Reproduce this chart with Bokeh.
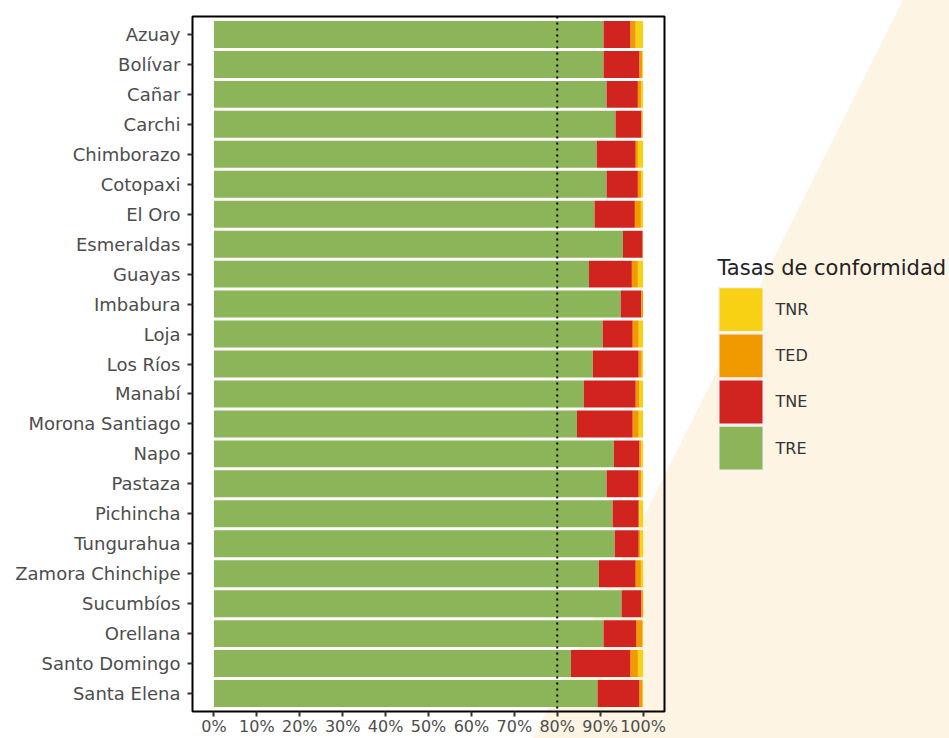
from urllib.parse import quote
from bokeh.plotting import figure
from bokeh.layouts import row
from bokeh.models import ColumnDataSource, Range1d, FixedTicker, Span
from bokeh.core.properties import value
from bokeh.embed import file_html
from bokeh.resources import INLINE

# ---------------- data ----------------
provincias = ["Azuay", "Bolívar", "Cañar", "Carchi", "Chimborazo", "Cotopaxi",
              "El Oro", "Esmeraldas", "Guayas", "Imbabura", "Loja", "Los Ríos",
              "Manabí", "Morona Santiago", "Napo", "Pastaza", "Pichincha",
              "Tungurahua", "Zamora Chinchipe", "Sucumbíos", "Orellana",
              "Santo Domingo", "Santa Elena"]

TRE = [90.8, 90.8, 91.5, 93.6, 89.2, 91.5, 88.7, 95.3, 87.4, 94.8, 90.6, 88.3,
       86.2, 84.6, 93.2, 91.5, 92.9, 93.4, 89.7, 95.0, 90.8, 83.2, 89.4]
TNE = [6.3, 8.4, 7.3, 6.0, 9.1, 7.3, 9.4, 4.6, 10.0, 4.8, 7.0, 10.7,
       12.1, 13.0, 6.0, 7.5, 6.1, 5.6, 8.6, 4.6, 7.7, 13.9, 9.8]
TED = [1.2, 0.6, 0.8, 0.3, 0.5, 0.8, 1.4, 0.1, 1.4, 0.4, 1.4, 0.7,
       0.9, 1.4, 0.4, 0.6, 0.1, 0.3, 1.2, 0.4, 1.4, 1.7, 0.7]
TNR = [1.7, 0.2, 0.4, 0.1, 1.2, 0.4, 0.5, 0.0, 1.2, 0.0, 1.0, 0.3,
       0.8, 1.0, 0.4, 0.4, 0.9, 0.7, 0.5, 0.0, 0.1, 1.2, 0.1]

series = ["TRE", "TNE", "TED", "TNR"]
series_colors = ["#8CB55A", "#D2241F", "#F09A00", "#F9D114"]
legend_order = ["TNR", "TED", "TNE", "TRE"]
legend_title = "Tasas de conformidad"

x_ticks = [0, 10, 20, 30, 40, 50, 60, 70, 80, 90, 100]
x_tick_labels = ["0%", "10%", "20%", "30%", "40%", "50%", "60%", "70%",
                 "80%", "90%", "100%"]
meta = 80

FONT = "DejaVu Sans"
W, H = 949, 738
MAIN_W = 666
FRAME_TOP, FRAME_BOTTOM = 16, 713

# ---------------- main chart ----------------
n = len(provincias)
pos = list(range(1, n + 1))
source = ColumnDataSource(dict(pos=pos, prov=provincias, TRE=TRE, TNE=TNE,
                               TED=TED, TNR=TNR))

p = figure(width=MAIN_W, height=H,
           x_range=Range1d(-5, 105), y_range=Range1d(n + 0.6, 0.4),
           output_backend="svg", toolbar_location=None,
           min_border_left=192, min_border_right=2,
           min_border_top=FRAME_TOP, min_border_bottom=H - FRAME_BOTTOM)
p.background_fill_alpha = 0
p.border_fill_alpha = 0
p.outline_line_color = "black"
p.outline_line_width = 2

p.hbar_stack(series, y="pos", height=0.9, source=source,
             fill_color=series_colors, line_color=None)

p.add_layout(Span(location=meta, dimension="height", line_color="black",
                  line_width=2, line_dash="2 4"))

p.xgrid.visible = False
p.ygrid.visible = False
p.xaxis.ticker = FixedTicker(ticks=x_ticks)
p.xaxis.major_label_overrides = dict(zip(x_ticks, x_tick_labels))
p.yaxis.ticker = FixedTicker(ticks=pos)
p.yaxis.major_label_overrides = dict(zip(pos, provincias))
for ax in (p.xaxis, p.yaxis):
    ax.axis_line_color = None
    ax.minor_tick_line_color = None
    ax.major_tick_line_color = "#333333"
    ax.major_tick_line_width = 2
    ax.major_tick_out = 5
    ax.major_tick_in = 0
    ax.major_label_text_font = FONT
    ax.major_label_text_color = "#4D4D4D"
p.yaxis.major_label_text_font_size = "18px"
p.xaxis.major_label_text_font_size = "16px"
p.yaxis.major_label_standoff = 7
p.xaxis.major_label_standoff = 0

# ---------------- legend panel (pixel-like data coordinates) ----------------
# the row layout aligns this panel's frame with the chart's frame
pl = figure(width=W - MAIN_W, height=H,
            x_range=Range1d(MAIN_W, W), y_range=Range1d(FRAME_BOTTOM, FRAME_TOP),
            output_backend="svg", toolbar_location=None,
            x_axis_location=None, y_axis_location=None,
            min_border=0, min_border_left=0, min_border_right=0,
            min_border_top=FRAME_TOP, min_border_bottom=H - FRAME_BOTTOM)
pl.background_fill_alpha = 0
pl.border_fill_alpha = 0
pl.outline_line_color = None
pl.xgrid.visible = False
pl.ygrid.visible = False

key_x, key_y0, key_pitch, key_size = 740.5, 310, 46.3, 43
key_y = [key_y0 + key_pitch * i for i in range(len(legend_order))]
key_colors = [series_colors[series.index(s)] for s in legend_order]
leg = ColumnDataSource(dict(y=key_y, label=legend_order, color=key_colors))

pl.rect(x=key_x, y="y", width=key_size + 3, height=key_size + 3, source=leg,
        fill_color="#F2F2F2", line_color=None)
pl.rect(x=key_x, y="y", width=key_size, height=key_size, source=leg,
        fill_color="color", line_color=None)
pl.text(x=775, y="y", text="label", source=leg, text_baseline="middle",
        text_align="left", text_font=value(FONT),
        text_font_size=value("16px"), text_color="#333333")
pl.text(x=[717], y=[268], text=[legend_title], text_baseline="middle",
        text_align="left", text_font=value(FONT),
        text_font_size=value("21px"), text_color="#222222")

# cream decorative shape behind the whole page
svg_bg = ("<svg xmlns='http://www.w3.org/2000/svg' width='949' height='738'>"
          "<rect width='949' height='738' fill='white'/>"
          "<polygon points='903,0 949,0 949,738 533,738' fill='#FDF4E3'/></svg>")
layout = row(p, pl, spacing=0,
             styles={"background-image": 'url("data:image/svg+xml,' + quote(svg_bg) + '")',
                     "background-repeat": "no-repeat"})

open("out.html", "w").write(file_html(layout, INLINE))
